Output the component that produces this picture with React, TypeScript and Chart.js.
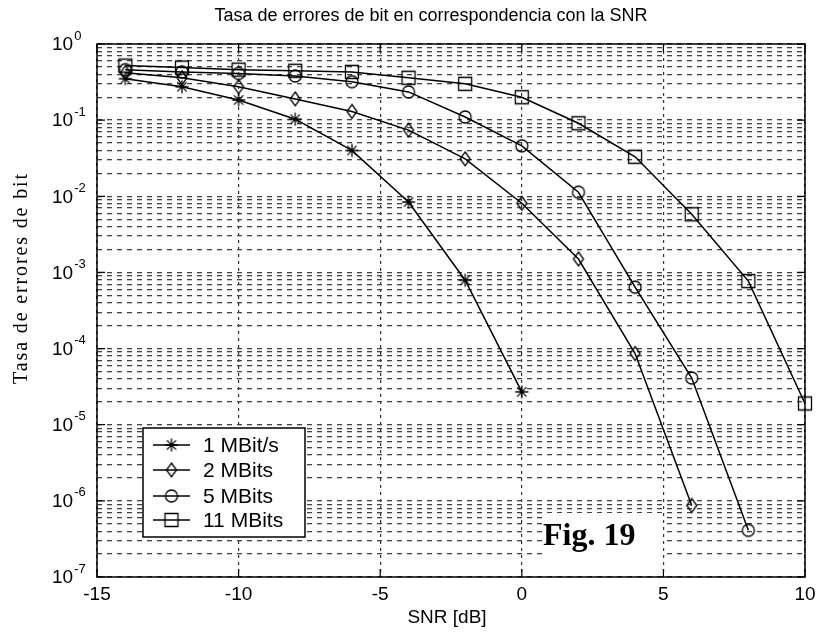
import React, { useEffect, useRef } from 'react';
import { Chart, registerables } from 'chart.js';

Chart.register(...registerables);

const titleText = 'Tasa de errores de bit en correspondencia con la SNR';
const xTitle = 'SNR [dB]';
const yTitle = 'Tasa de errores de bit';
const figLabel = 'Fig. 19';

const seriesNames = ['1 MBit/s', '2 MBits', '5 MBits', '11 MBits'];

const snr1 = [-14, -12, -10, -8, -6, -4, -2, 0];
const ber1 = [0.35, 0.275, 0.184, 0.103, 0.04, 0.0084, 0.00079, 0.000027];

const snr2 = [-14, -12, -10, -8, -6, -4, -2, 0, 2, 4, 6];
const ber2 = [0.42, 0.36, 0.275, 0.19, 0.13, 0.074, 0.031, 0.0081, 0.0015, 0.000086, 0.00000087];

const snr3 = [-14, -12, -10, -8, -6, -4, -2, 0, 2, 4, 6, 8];
const ber3 = [0.46, 0.43, 0.41, 0.38, 0.32, 0.235, 0.11, 0.046, 0.0113, 0.00064, 0.000041, 0.00000041];

const snr4 = [-14, -12, -10, -8, -6, -4, -2, 0, 2, 4, 6, 8, 10];
const ber4 = [0.52, 0.49, 0.46, 0.445, 0.43, 0.36, 0.3, 0.2, 0.091, 0.033, 0.0058, 0.00077, 0.000019];

const xTickValues = [-15, -10, -5, 0, 5, 10];
const yDecadeExps = [0, -1, -2, -3, -4, -5, -6, -7];
const yMantissas = [1, 2, 3, 4, 5, 6, 7, 8, 9];

function makeMarker(kind: string): HTMLCanvasElement {
  const c = document.createElement('canvas');
  c.width = 18;
  c.height = 18;
  const g = c.getContext('2d')!;
  g.strokeStyle = '#000';
  g.lineWidth = 1.3;
  const cx = 9, cy = 9;
  g.beginPath();
  if (kind === 'star') {
    const r = 6.5;
    for (let k = 0; k < 4; k++) {
      const ang = (k * Math.PI) / 4;
      g.moveTo(cx - r * Math.cos(ang), cy - r * Math.sin(ang));
      g.lineTo(cx + r * Math.cos(ang), cy + r * Math.sin(ang));
    }
  } else if (kind === 'diamond') {
    g.moveTo(cx, cy - 7);
    g.lineTo(cx + 5, cy);
    g.lineTo(cx, cy + 7);
    g.lineTo(cx - 5, cy);
    g.closePath();
  } else if (kind === 'circle') {
    g.arc(cx, cy, 6, 0, Math.PI * 2);
  } else {
    g.rect(cx - 6.5, cy - 6.5, 13, 13);
  }
  g.stroke();
  return c;
}

export default function App() {
  const ref = useRef<HTMLCanvasElement | null>(null);

  useEffect(() => {
    if (!ref.current) return;
    const markers = ['star', 'diamond', 'circle', 'square'].map(makeMarker);
    const xs = [snr1, snr2, snr3, snr4];
    const ys = [ber1, ber2, ber3, ber4];

    const yGridValues: number[] = [];
    yDecadeExps.forEach((e) => {
      yMantissas.forEach((m) => {
        const v = m * Math.pow(10, e);
        if (v <= 1.0000001) yGridValues.push(v);
      });
    });
    yGridValues.sort((a, b) => a - b);

    const decor = {
      id: 'decor',
      beforeDraw(chart: any) {
        const ctx = chart.ctx;
        ctx.save();
        ctx.fillStyle = '#fff';
        ctx.fillRect(0, 0, chart.width, chart.height);
        ctx.restore();
      },
      afterDraw(chart: any) {
        const ctx: CanvasRenderingContext2D = chart.ctx;
        const a = chart.chartArea;
        const xS = chart.scales.x;
        const yS = chart.scales.y;
        ctx.save();
        ctx.setLineDash([]);
        ctx.strokeStyle = '#000';
        ctx.lineWidth = 1.5;
        ctx.strokeRect(a.left, a.top, a.right - a.left, a.bottom - a.top);
        // inner ticks
        ctx.lineWidth = 1.2;
        ctx.beginPath();
        xTickValues.forEach((v) => {
          const px = xS.getPixelForValue(v);
          ctx.moveTo(px, a.bottom);
          ctx.lineTo(px, a.bottom - 8);
          ctx.moveTo(px, a.top);
          ctx.lineTo(px, a.top + 8);
        });
        yDecadeExps.forEach((e) => {
          const py = yS.getPixelForValue(Math.pow(10, e));
          ctx.moveTo(a.left, py);
          ctx.lineTo(a.left + 8, py);
          ctx.moveTo(a.right, py);
          ctx.lineTo(a.right - 8, py);
        });
        ctx.stroke();

        ctx.fillStyle = '#000';
        // x tick labels
        ctx.font = '19px "Liberation Sans", Arial, sans-serif';
        ctx.textAlign = 'center';
        ctx.textBaseline = 'middle';
        xTickValues.forEach((v) => {
          ctx.fillText(String(v), xS.getPixelForValue(v), 595);
        });
        // y tick labels
        yDecadeExps.forEach((e) => {
          const py = yS.getPixelForValue(Math.pow(10, e));
          ctx.font = '19px "Liberation Sans", Arial, sans-serif';
          ctx.textAlign = 'left';
          ctx.textBaseline = 'middle';
          ctx.fillText('10', 52, py + 1);
          const w = ctx.measureText('10').width;
          ctx.font = '13px "Liberation Sans", Arial, sans-serif';
          ctx.fillText(e === 0 ? '0' : '-' + String(-e), 52 + w + 1, py - 8);
        });
        // title
        ctx.font = '18px "Liberation Sans", Arial, sans-serif';
        ctx.textAlign = 'center';
        ctx.textBaseline = 'middle';
        ctx.fillText(titleText, 431, 16);
        // x title
        ctx.font = '19px "Liberation Sans", Arial, sans-serif';
        ctx.fillText(xTitle, 447, 618);
        // y title (rotated, letter spaced)
        ctx.save();
        ctx.translate(22, 278);
        ctx.rotate(-Math.PI / 2);
        ctx.font = '20px "Liberation Serif", "Times New Roman", serif';
        ctx.textBaseline = 'middle';
        const natural = ctx.measureText(yTitle).width;
        const spacing = Math.max(0, (210 - natural) / (yTitle.length - 1));
        (ctx as any).letterSpacing = spacing.toFixed(2) + 'px';
        const wSp = ctx.measureText(yTitle).width;
        ctx.textAlign = 'left';
        ctx.fillText(yTitle, -wSp / 2, 0);
        ctx.restore();

        // legend
        const lx = 143, ly = 428, lw = 162, lh = 109;
        ctx.fillStyle = '#fff';
        ctx.fillRect(lx, ly, lw, lh);
        ctx.strokeStyle = '#000';
        ctx.lineWidth = 1.5;
        ctx.strokeRect(lx, ly, lw, lh);
        const rows = [445, 470, 496, 520];
        ctx.font = '21px "Liberation Sans", Arial, sans-serif';
        ctx.textAlign = 'left';
        ctx.textBaseline = 'middle';
        seriesNames.forEach((name, i) => {
          const ry = rows[i];
          ctx.beginPath();
          ctx.lineWidth = 1.5;
          ctx.moveTo(153, ry);
          ctx.lineTo(190, ry);
          ctx.stroke();
          const m = markers[i];
          ctx.drawImage(m, 171.5 - m.width / 2, ry - m.height / 2);
          ctx.fillStyle = '#000';
          ctx.fillText(name, 203, ry + 1);
        });

        // Fig. 19 label box
        ctx.fillStyle = '#fff';
        ctx.fillRect(542, 513, 120, 62);
        ctx.fillStyle = '#000';
        ctx.font = 'bold 32px "Liberation Serif", "Times New Roman", serif';
        ctx.textAlign = 'left';
        ctx.textBaseline = 'alphabetic';
        ctx.fillText(figLabel, 543, 545);
        ctx.restore();
      },
    };

    const chart = new Chart(ref.current, {
      type: 'scatter',
      data: {
        datasets: seriesNames.map((name, i) => ({
          label: name,
          data: xs[i].map((xv, j) => ({ x: xv, y: ys[i][j] })),
          showLine: true,
          borderColor: '#000',
          borderWidth: 1.5,
          tension: 0,
          pointStyle: markers[i] as any,
          pointRadius: 6,
          pointHoverRadius: 6,
          clip: false as any,
        })),
      },
      options: {
        animation: false,
        responsive: false,
        devicePixelRatio: 1,
        events: [],
        layout: { padding: { left: 97, top: 44, right: 11, bottom: 57 } },
        plugins: {
          legend: { display: false },
          tooltip: { enabled: false },
          title: { display: false },
        },
        scales: {
          x: {
            type: 'linear',
            min: -15,
            max: 10,
            ticks: { display: false, stepSize: 5 },
            afterBuildTicks: (scale: any) => {
              scale.ticks = xTickValues.map((v) => ({ value: v }));
            },
            grid: {
              display: true,
              drawTicks: false,
              color: '#333',
              lineWidth: 1.2,
            },
            border: { display: false, dash: [3, 4] },
          },
          y: {
            type: 'logarithmic',
            min: 1e-7,
            max: 1,
            ticks: { display: false },
            afterBuildTicks: (scale: any) => {
              scale.ticks = yGridValues.map((v) => ({ value: v }));
            },
            grid: {
              display: true,
              drawTicks: false,
              color: '#444',
              lineWidth: 1.3,
            },
            border: { display: false, dash: [5, 5] },
          },
        },
      },
      plugins: [decor],
    });
    return () => chart.destroy();
  }, []);

  return (
    <div style={{ position: 'fixed', left: 0, top: 0, width: 816, height: 634, background: '#fff' }}>
      <canvas ref={ref} width={816} height={634} style={{ display: 'block' }} />
    </div>
  );
}
